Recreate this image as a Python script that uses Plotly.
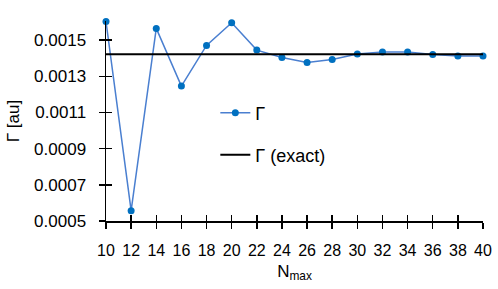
import plotly.graph_objects as go

n_max = [10, 12, 14, 16, 18, 20, 22, 24, 26, 28, 30, 32, 34, 36, 38, 40]
gamma = [0.001603, 0.000557, 0.001565, 0.001246, 0.001471, 0.001596, 0.001445, 0.001404,
         0.001377, 0.001393, 0.001424, 0.001435, 0.001434, 0.001421, 0.001413, 0.001413]
gamma_exact = 0.001422
x_ticks = list(range(10, 41, 2))
y_ticks = [0.0005, 0.0007, 0.0009, 0.0011, 0.0013, 0.0015]
y_tick_text = ["0.0005", "0.0007", "0.0009", "0.0011", "0.0013", "0.0015"]
y_range = [0.0005, 0.001606]

FONT = "Liberation Sans"
fig = go.Figure()
fig.add_trace(go.Scatter(
    x=n_max, y=gamma, mode="lines+markers", name="Γ",
    line=dict(color="#4a7fd0", width=1.5),
    marker=dict(color="#0070c0", size=7),
    cliponaxis=False, legend="legend"))
fig.add_trace(go.Scatter(
    x=[n_max[0], n_max[-1]], y=[gamma_exact, gamma_exact], mode="lines",
    name="Γ (exact)", line=dict(color="black", width=2),
    cliponaxis=False, legend="legend2"))

axis_common = dict(showgrid=False, zeroline=False, showline=True, linecolor="black",
                   linewidth=1.5, ticklen=6, tickwidth=1.5, tickcolor="black",
                   automargin=False)
fig.update_layout(
    width=498, height=289,
    margin=dict(l=106, r=15, t=21, b=68),
    paper_bgcolor="white", plot_bgcolor="white",
    hovermode=False,
    font=dict(family=FONT, size=17, color="black"),
    xaxis=dict(range=[10, 40], tickvals=x_ticks, ticks="outside", ticklabelstandoff=8,
               title=dict(text="N<sub>max</sub>", font=dict(size=17), standoff=7),
               tickfont=dict(size=16), **axis_common),
    yaxis=dict(range=y_range, tickvals=y_ticks, ticktext=y_tick_text,
               ticks="outside", ticklabelstandoff=9,
               title=dict(text="Γ [au]", font=dict(size=17), standoff=10),
               tickfont=dict(size=17), **axis_common),
    xaxis2=dict(range=[10, 40], tickvals=x_ticks, ticks="inside", overlaying="x",
                showticklabels=False, anchor="y", **axis_common),
    yaxis2=dict(range=y_range, tickvals=y_ticks, ticks="inside", overlaying="y",
                showticklabels=False, anchor="x", **axis_common),
    legend=dict(x=0.29, y=0.54, xanchor="left", yanchor="middle",
                bgcolor="rgba(0,0,0,0)", font=dict(size=18)),
    legend2=dict(x=0.29, y=0.33, xanchor="left", yanchor="middle",
                 bgcolor="rgba(0,0,0,0)", font=dict(size=18)),
    showlegend=True,
)
fig.add_trace(go.Scatter(x=[n_max[0]], y=[gamma_exact], xaxis="x2", yaxis="y2",
                         mode="markers", marker=dict(opacity=0), showlegend=False,
                         hoverinfo="skip"))
fig.write_html("out.html", config={"displayModeBar": False, "staticPlot": True},
               post_script="document.body.style.margin='0';document.body.style.overflow='hidden';")
